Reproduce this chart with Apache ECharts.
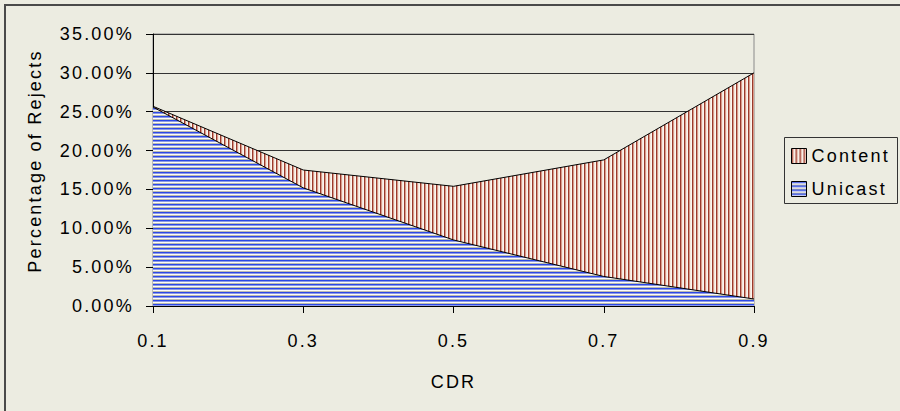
<!DOCTYPE html>
<html>
<head>
<meta charset="utf-8">
<script src="https://cdn.jsdelivr.net/npm/echarts@6/dist/echarts.min.js"></script>
<style>
  html, body { margin: 0; padding: 0; background: #ECECE1; }
  #chart { width: 900px; height: 411px; letter-spacing: 2.2px; }
</style>
</head>
<body>
<div id="chart"></div>
<script>
// ---- data ----
const categories = ['0.1', '0.3', '0.5', '0.7', '0.9'];
const contentValues = [25.7, 17.5, 15.4, 18.8, 30.0];
const unicastValues = [25.6, 15.2, 8.5, 3.8, 0.9];
const seriesNames = ['Content', 'Unicast'];
const xAxisTitle = 'CDR';
const yAxisTitle = 'Percentage of Rejects';

// ---- patterns ----
function stripePattern(colors, vertical) {
  const n = colors.length;
  const c = document.createElement('canvas');
  c.width = vertical ? n : 4;
  c.height = vertical ? 4 : n;
  const ctx = c.getContext('2d');
  colors.forEach((col, i) => {
    ctx.fillStyle = col;
    if (vertical) ctx.fillRect(i, 0, 1, 4); else ctx.fillRect(0, i, 4, 1);
  });
  return { image: c, repeat: 'repeat' };
}
const contentPattern = stripePattern(['#9a3a2c', '#d89c8c', '#f3e6dc', '#fbf6ef'], true);
const unicastPattern = stripePattern(['#2c48e6', '#8c9ae6', '#fafafa', '#bdbdae'], false);

const FONT = "'Liberation Sans', Arial, sans-serif";
const FS = 18;

const chart = echarts.init(document.getElementById('chart'), null, { renderer: 'svg' });
chart.setOption({
  backgroundColor: '#ECECE1',
  animation: false,
  textStyle: { fontFamily: FONT, color: '#000' },
  grid: {
    left: 153, top: 34, width: 601, height: 272,
    show: true, borderColor: '#8a8a8a', borderWidth: 1, backgroundColor: 'transparent'
  },
  xAxis: {
    type: 'category',
    data: categories,
    boundaryGap: false,
    name: xAxisTitle,
    nameLocation: 'middle',
    nameGap: 67,
    nameTextStyle: { fontSize: FS, fontFamily: FONT, color: '#000' },
    axisLine: { lineStyle: { color: '#000', width: 1 } },
    axisTick: { show: true, length: 7, lineStyle: { color: '#000' } },
    axisLabel: { fontSize: FS, margin: 26, color: '#000', fontFamily: FONT },
    splitLine: { show: false }
  },
  yAxis: {
    type: 'value',
    min: 0, max: 35, interval: 5,
    axisLine: { show: true, lineStyle: { color: '#000', width: 1 } },
    axisTick: { show: true, length: 7, lineStyle: { color: '#000' } },
    axisLabel: {
      fontSize: FS, margin: 19, color: '#000', fontFamily: FONT,
      formatter: v => v.toFixed(2) + '%'
    },
    splitLine: { show: true, lineStyle: { color: '#333', width: 1 } }
  },
  legend: {
    orient: 'vertical',
    left: 791, top: 147,
    padding: 0,
    itemGap: 15,
    itemWidth: 15, itemHeight: 15,
    icon: 'rect',
    textStyle: { fontSize: FS, fontFamily: FONT, color: '#000' },
    data: [
      { name: seriesNames[0], itemStyle: { color: contentPattern, borderColor: '#000', borderWidth: 1 } },
      { name: seriesNames[1], itemStyle: { color: unicastPattern, borderColor: '#000', borderWidth: 1 } }
    ]
  },
  graphic: [
    { type: 'rect', silent: true, z: -1,
      shape: { x: 5, y: 5, width: 1000, height: 1000 },
      style: { fill: 'none', stroke: '#4a4a4a', lineWidth: 2 } },
    { type: 'rect', silent: true,
      shape: { x: 784.5, y: 137.5, width: 113, height: 66 },
      style: { fill: 'none', stroke: '#333', lineWidth: 1 } },
    { type: 'text', silent: true,
      x: 35, y: 161, rotation: Math.PI / 2,
      style: { text: yAxisTitle, font: FS + 'px ' + FONT, fill: '#000', align: 'center', verticalAlign: 'middle' } }
  ],
  series: [
    {
      name: seriesNames[0], type: 'line', data: contentValues,
      symbol: 'none', z: 2,
      itemStyle: { color: contentPattern },
      lineStyle: { color: '#000', width: 1 },
      areaStyle: { color: contentPattern, opacity: 1 }
    },
    {
      name: seriesNames[1], type: 'line', data: unicastValues,
      symbol: 'none', z: 3,
      itemStyle: { color: unicastPattern },
      lineStyle: { color: '#000', width: 1 },
      areaStyle: { color: unicastPattern, opacity: 1 }
    }
  ]
});
</script>
</body>
</html>
